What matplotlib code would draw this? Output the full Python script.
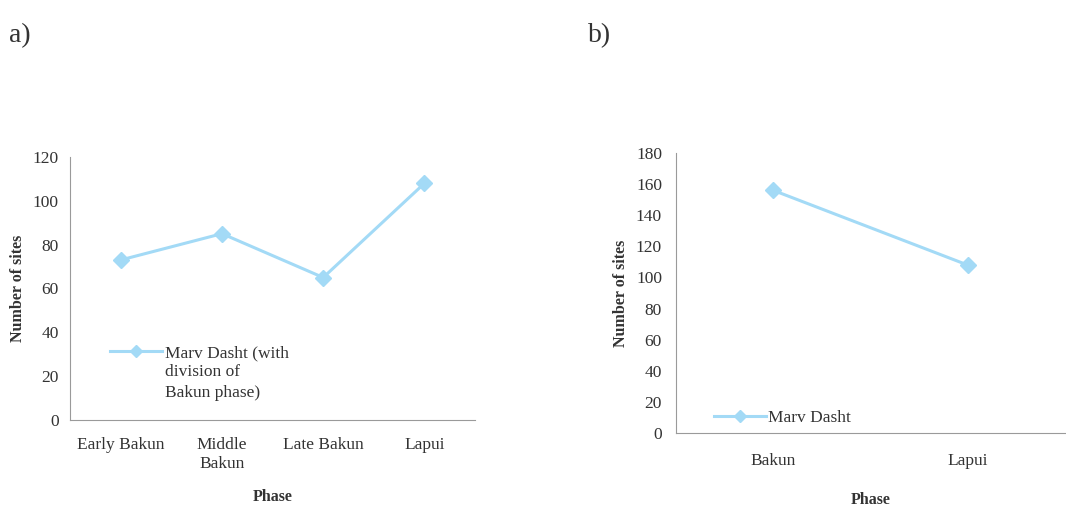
import matplotlib.pyplot as plt
from matplotlib.lines import Line2D

plt.rcParams['font.family'] = ['Liberation Serif', 'DejaVu Serif']

# panel a: Bakun split into sub-phases
phases_a = ["Early Bakun", "Middle\nBakun", "Late Bakun", "Lapui"]
sites_a = [73, 85, 65, 108]
yticks_a = [0, 20, 40, 60, 80, 100, 120]

# panel b: Bakun as one phase
phases_b = ["Bakun", "Lapui"]
sites_b = [156, 108]
yticks_b = [0, 20, 40, 60, 80, 100, 120, 140, 160, 180]

LINE_COL = '#a3daf6'
AXIS_COL = '#9a9a9a'
TEXT_COL = '#333333'

fig = plt.figure(figsize=(10.66, 5.15), dpi=100)
ax_a = fig.add_axes([0.0657, 0.1845, 0.380, 0.5107])
ax_b = fig.add_axes([0.634, 0.159, 0.365, 0.544])


def style_axes(ax, n, yticks):
    ax.set_xlim(-0.5, n - 0.5)
    ax.set_ylim(yticks[0], yticks[-1])
    ax.set_yticks(yticks)
    for s in ['top', 'right']:
        ax.spines[s].set_visible(False)
    for s in ['left', 'bottom']:
        ax.spines[s].set_color(AXIS_COL)
        ax.spines[s].set_linewidth(0.8)
    ax.tick_params(length=0, labelsize=12.5, colors=TEXT_COL)
    ax.set_ylabel('Number of sites', fontweight='bold', fontsize=11.5, color=TEXT_COL)
    ax.set_xlabel('Phase', fontweight='bold', fontsize=11.5, color=TEXT_COL)


# panel a
xa = list(range(len(phases_a)))
ax_a.plot(xa, sites_a, color=LINE_COL, linewidth=2.2, marker='D', markersize=8,
          markerfacecolor=LINE_COL, markeredgecolor=LINE_COL)
style_axes(ax_a, len(phases_a), yticks_a)
ax_a.set_xticks(xa)
ax_a.set_xticklabels(phases_a, linespacing=1.3)
ax_a.tick_params(axis='x', pad=12)
ax_a.tick_params(axis='y', pad=8)
ax_a.yaxis.labelpad = 5
ax_a.xaxis.labelpad = 12
h_a = Line2D([], [], color=LINE_COL, linewidth=2.2, marker='D', markersize=6)
ax_a.legend([h_a], ['Marv Dasht (with'], loc='center left',
            bbox_to_anchor=(0.06, 0.255), frameon=False, fontsize=12.5, handlelength=3,
            handletextpad=0.15, labelcolor=TEXT_COL)
ax_a.text(0.235, 0.213, 'division of\nBakun phase)', transform=ax_a.transAxes,
          fontsize=12.5, color=TEXT_COL, va='top', ha='left', linespacing=1.4)

# panel b
xb = list(range(len(phases_b)))
ax_b.plot(xb, sites_b, color=LINE_COL, linewidth=2.2, marker='D', markersize=8,
          markerfacecolor=LINE_COL, markeredgecolor=LINE_COL)
style_axes(ax_b, len(phases_b), yticks_b)
ax_b.set_xticks(xb)
ax_b.set_xticklabels(phases_b)
ax_b.tick_params(axis='x', pad=14)
ax_b.tick_params(axis='y', pad=10)
ax_b.yaxis.labelpad = 5
ax_b.xaxis.labelpad = 17
h_b = Line2D([], [], color=LINE_COL, linewidth=2.2, marker='D', markersize=6)
ax_b.legend([h_b], ['Marv Dasht'], loc='center left', bbox_to_anchor=(0.057, 0.054),
            frameon=False, fontsize=12.5, handlelength=3, handletextpad=0.15,
            labelcolor=TEXT_COL)

fig.text(0.008, 0.955, 'a)', fontsize=20, va='top', color=TEXT_COL)
fig.text(0.552, 0.955, 'b)', fontsize=20, va='top', color=TEXT_COL)

fig.savefig('out.png', dpi=100)
